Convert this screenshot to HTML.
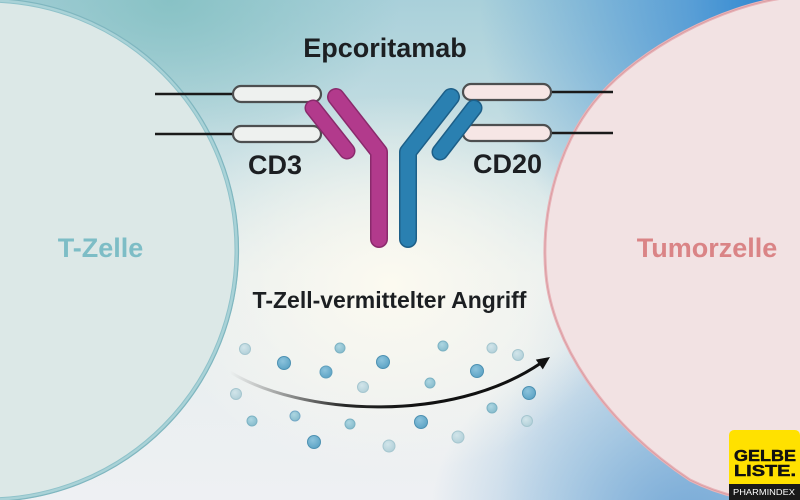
<!DOCTYPE html>
<html><head><meta charset="utf-8"><style>
html,body{margin:0;padding:0;width:800px;height:500px;overflow:hidden}
body{background:
radial-gradient(ellipse 230px 190px at 390px 285px, rgba(252,250,240,1) 0%, rgba(250,248,240,0.6) 50%, rgba(250,248,240,0) 100%),
radial-gradient(ellipse 320px 330px at 800px 0px, #1f7fcf 0%, #5a9fd6 35%, rgba(150,195,225,0) 100%),
radial-gradient(ellipse 260px 200px at 690px 520px, rgba(120,170,215,1), rgba(140,185,220,0.6) 50%, rgba(150,190,220,0) 100%),
radial-gradient(ellipse 300px 420px at 800px 500px, rgba(140,185,220,0.95), rgba(150,190,220,0) 100%),
radial-gradient(ellipse 230px 150px at 170px 0px, #88c2c5, rgba(140,195,200,0)),
linear-gradient(180deg, #a9d0da 0%, #c3dde2 25%, #e6eeee 55%, #eef0f3 100%);}
svg{position:absolute;left:0;top:0}
</style></head><body>
<svg width="800" height="500" viewBox="0 0 800 500" xmlns="http://www.w3.org/2000/svg">
<defs>
<linearGradient id="arr" gradientUnits="userSpaceOnUse" x1="230" y1="0" x2="420" y2="0">
<stop offset="0" stop-color="#333" stop-opacity="0"/>
<stop offset="0.6" stop-color="#111" stop-opacity="0.9"/>
<stop offset="1" stop-color="#111"/>
</linearGradient>
<radialGradient id="dk" cx="0.4" cy="0.35" r="0.7">
<stop offset="0" stop-color="#8cc3dc"/><stop offset="1" stop-color="#5ba2c4"/>
</radialGradient>
<radialGradient id="md" cx="0.4" cy="0.35" r="0.7">
<stop offset="0" stop-color="#add6e2"/><stop offset="1" stop-color="#84bacb"/>
</radialGradient>
<radialGradient id="lt" cx="0.4" cy="0.35" r="0.7">
<stop offset="0" stop-color="#d2e5ea"/><stop offset="1" stop-color="#b0cfd8"/>
</radialGradient>
</defs>
<!-- left cell -->
<circle cx="-13" cy="250" r="250" fill="#dce8e7"/>
<circle cx="-13" cy="250" r="250" fill="none" stroke="#a9d2d7" stroke-width="4"/>
<circle cx="-13" cy="250" r="251.5" fill="none" stroke="#7fb6bf" stroke-width="1.2"/>
<circle cx="-13" cy="250" r="248" fill="none" stroke="#8fc2ca" stroke-width="1"/>
<!-- right cell -->
<path d="M790,-3 C720,5 640,50 600,95 C560,140 540,210 546,275 C552,340 600,420 690,480 C720,495 750,502 800,505 L805,505 L805,-3 Z" fill="#f2e2e3" stroke="#e8b3b8" stroke-width="3"/>
<path d="M790,-3 C720,5 640,50 600,95 C560,140 540,210 546,275 C552,340 600,420 690,480 C720,495 750,502 800,505" fill="none" stroke="#d99aa0" stroke-width="0.8"/>

<!-- receptor lines -->
<g stroke="#1a1a1a" stroke-width="2.5">
<line x1="155" y1="94" x2="234" y2="94"/>
<line x1="155" y1="134" x2="234" y2="134"/>
<line x1="552" y1="92" x2="613" y2="92"/>
<line x1="552" y1="133" x2="613" y2="133"/>
</g>
<g stroke="#4d4f50" stroke-width="2.2">
<rect x="233" y="86" width="88" height="16" rx="8" fill="#eef1ef"/>
<rect x="233" y="126" width="88" height="16" rx="8" fill="#eef1ef"/>
<rect x="463" y="84" width="88" height="16" rx="8" fill="#f6e6e5"/>
<rect x="463" y="125" width="88" height="16" rx="8" fill="#f6e6e5"/>
</g>

<!-- antibody -->
<g fill="none" stroke-linecap="round" stroke-linejoin="round">
<path d="M336,97 L379,152 L379,239" stroke="#8a2a6c" stroke-width="18"/>
<path d="M336,97 L379,152 L379,239" stroke="#b23a8c" stroke-width="15"/>
<path d="M313,108 L347,151" stroke="#8a2a6c" stroke-width="17"/>
<path d="M313,108 L347,151" stroke="#b23a8c" stroke-width="14"/>
<path d="M451,97 L408,152 L408,239" stroke="#1d5f88" stroke-width="18"/>
<path d="M451,97 L408,152 L408,239" stroke="#2a80b1" stroke-width="15"/>
<path d="M474,108 L440,152" stroke="#1d5f88" stroke-width="17"/>
<path d="M474,108 L440,152" stroke="#2a80b1" stroke-width="14"/>
</g>

<!-- texts -->
<g font-family="Liberation Sans, Arial, sans-serif" font-weight="bold" text-anchor="middle">
<text x="385" y="57" font-size="27" fill="#1c1f22">Epcoritamab</text>
<text x="275" y="174" font-size="27" fill="#1c1f22">CD3</text>
<text x="507.5" y="173" font-size="27" fill="#1c1f22">CD20</text>
<text x="100.5" y="257" font-size="27" fill="#7dbdc6">T-Zelle</text>
<text x="707" y="257" font-size="27" fill="#da8486">Tumorzelle</text>
<text x="389.5" y="308" font-size="23" fill="#1c1f22">T-Zell-vermittelter Angriff</text>
</g>

<!-- dots -->
<g stroke-width="1">
<circle cx="245" cy="349" r="5.5" fill="url(#lt)" stroke="#a5c6cf"/>
<circle cx="284" cy="363" r="6.5" fill="url(#dk)" stroke="#4d91b2"/>
<circle cx="340" cy="348" r="5" fill="url(#md)" stroke="#7cb2c3"/>
<circle cx="326" cy="372" r="6" fill="url(#dk)" stroke="#5f9fbc"/>
<circle cx="383" cy="362" r="6.5" fill="url(#dk)" stroke="#4d91b2"/>
<circle cx="363" cy="387" r="5.5" fill="url(#lt)" stroke="#a5c6cf"/>
<circle cx="443" cy="346" r="5" fill="url(#md)" stroke="#7cb2c3"/>
<circle cx="430" cy="383" r="5" fill="url(#md)" stroke="#7cb2c3"/>
<circle cx="477" cy="371" r="6.5" fill="url(#dk)" stroke="#4d91b2"/>
<circle cx="492" cy="348" r="5" fill="url(#lt)" stroke="#a5c6cf"/>
<circle cx="518" cy="355" r="5.5" fill="url(#lt)" stroke="#a5c6cf"/>
<circle cx="529" cy="393" r="6.5" fill="url(#dk)" stroke="#4d91b2"/>
<circle cx="492" cy="408" r="5" fill="url(#md)" stroke="#7cb2c3"/>
<circle cx="527" cy="421" r="5.5" fill="url(#lt)" stroke="#a5c6cf"/>
<circle cx="236" cy="394" r="5.5" fill="url(#lt)" stroke="#a5c6cf"/>
<circle cx="252" cy="421" r="5" fill="url(#md)" stroke="#7cb2c3"/>
<circle cx="295" cy="416" r="5" fill="url(#md)" stroke="#74a8c6"/>
<circle cx="350" cy="424" r="5" fill="url(#md)" stroke="#7cb2c3"/>
<circle cx="421" cy="422" r="6.5" fill="url(#dk)" stroke="#4d91b2"/>
<circle cx="314" cy="442" r="6.5" fill="url(#dk)" stroke="#4d91b2"/>
<circle cx="389" cy="446" r="6" fill="url(#lt)" stroke="#a5c6cf"/>
<circle cx="458" cy="437" r="6" fill="url(#lt)" stroke="#a5c6cf"/>
</g>

<!-- arrow -->
<path d="M230,372 C300,415 450,425 541,363" fill="none" stroke="url(#arr)" stroke-width="3" stroke-linecap="round"/>
<polygon points="550,357 542.8,369.4 535.8,359.6" fill="#111"/>

<!-- logo -->
<rect x="729" y="430" width="71" height="75" rx="5" fill="#ffe100"/>
<path d="M729,484 L800,484 L800,500 L729,500 Z" fill="#1a1a1a"/>
<g font-family="Liberation Sans, Arial, sans-serif" font-weight="bold">
<text x="734" y="461" font-size="16" fill="#111" stroke="#111" stroke-width="0.5" textLength="62" lengthAdjust="spacingAndGlyphs">GELBE</text>
<text x="734" y="476" font-size="16" fill="#111" stroke="#111" stroke-width="0.5" textLength="62" lengthAdjust="spacingAndGlyphs">LISTE.</text>
</g>
<text x="733" y="495" font-family="Liberation Sans, Arial, sans-serif" font-size="8" fill="#fff" textLength="62" lengthAdjust="spacingAndGlyphs">PHARMINDEX</text>
</svg>
</body></html>
